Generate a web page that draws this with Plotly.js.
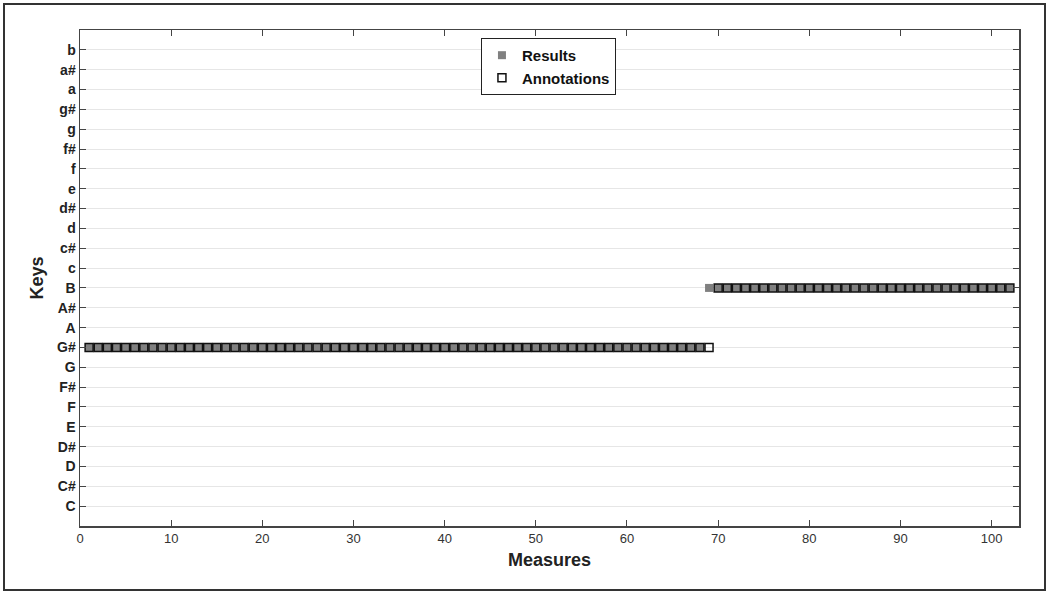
<!DOCTYPE html>
<html>
<head>
<meta charset="utf-8">
<script src="https://cdn.plot.ly/plotly-3.0.1.min.js"></script>
<style>
html,body{margin:0;padding:0;background:#fff;}
#wrap{position:relative;width:1048px;height:593px;}
#chart{position:absolute;left:0;top:0;width:1048px;height:593px;}
#frame{position:absolute;left:3px;top:3px;width:1039px;height:584px;border:2px solid #333;pointer-events:none;}
</style>
</head>
<body>
<div id="wrap"><div id="chart"></div><div id="frame"></div></div>
<script>
const keyLabels = ["C","C#","D","D#","E","F","F#","G","G#","A","A#","B","c","c#","d","d#","e","f","f#","g","g#","a","a#","b"];
const xTicks = [0,10,20,30,40,50,60,70,80,90,100];

const measures = [
1,2,3,4,5,6,7,8,9,10,
11,12,13,14,15,16,17,18,19,20,
21,22,23,24,25,26,27,28,29,30,
31,32,33,34,35,36,37,38,39,40,
41,42,43,44,45,46,47,48,49,50,
51,52,53,54,55,56,57,58,59,60,
61,62,63,64,65,66,67,68,69,70,
71,72,73,74,75,76,77,78,79,80,
81,82,83,84,85,86,87,88,89,90,
91,92,93,94,95,96,97,98,99,100,
101,102];

const resultsKeys = [
"G#","G#","G#","G#","G#","G#","G#","G#","G#","G#",
"G#","G#","G#","G#","G#","G#","G#","G#","G#","G#",
"G#","G#","G#","G#","G#","G#","G#","G#","G#","G#",
"G#","G#","G#","G#","G#","G#","G#","G#","G#","G#",
"G#","G#","G#","G#","G#","G#","G#","G#","G#","G#",
"G#","G#","G#","G#","G#","G#","G#","G#","G#","G#",
"G#","G#","G#","G#","G#","G#","G#","G#","B","B",
"B","B","B","B","B","B","B","B","B","B",
"B","B","B","B","B","B","B","B","B","B",
"B","B","B","B","B","B","B","B","B","B",
"B","B"];

const annotationKeys = [
"G#","G#","G#","G#","G#","G#","G#","G#","G#","G#",
"G#","G#","G#","G#","G#","G#","G#","G#","G#","G#",
"G#","G#","G#","G#","G#","G#","G#","G#","G#","G#",
"G#","G#","G#","G#","G#","G#","G#","G#","G#","G#",
"G#","G#","G#","G#","G#","G#","G#","G#","G#","G#",
"G#","G#","G#","G#","G#","G#","G#","G#","G#","G#",
"G#","G#","G#","G#","G#","G#","G#","G#","G#","B",
"B","B","B","B","B","B","B","B","B","B",
"B","B","B","B","B","B","B","B","B","B",
"B","B","B","B","B","B","B","B","B","B",
"B","B"];

const font = "Liberation Sans, Arial, Helvetica, sans-serif";

const traces = [
  {
    name: "Results", type: "scatter", mode: "markers",
    x: measures, y: resultsKeys,
    marker: {symbol: "square", size: 8, color: "#808080", line: {width: 0}}
  },
  {
    name: "Annotations", type: "scatter", mode: "markers",
    x: measures, y: annotationKeys,
    marker: {symbol: "square-open", size: 8, color: "#111", line: {width: 1.5, color: "#111"}}
  }
];

const layout = {
  width: 1048, height: 593,
  margin: {l: 80, r: 29, t: 30, b: 67},
  paper_bgcolor: "#fff", plot_bgcolor: "#fff",
  font: {family: font, color: "#222"},
  showlegend: true,
  legend: {
    x: 0.427, y: 0.984, xanchor: "left", yanchor: "top",
    bgcolor: "#fff", bordercolor: "#222", borderwidth: 1,
    font: {family: font, size: 15, weight: "bold", color: "#111"},
    tracegroupgap: 0, itemwidth: 30
  },
  xaxis: {
    range: [0, 103],
    tickvals: xTicks, ticktext: xTicks.map(String),
    ticks: "inside", ticklen: 6, tickwidth: 1, tickcolor: "#444",
    showline: true, linecolor: "#444", linewidth: 1.5, mirror: "ticks",
    showgrid: false, zeroline: false,
    tickfont: {family: font, size: 13, color: "#333"},
    title: {text: "Measures", font: {family: font, size: 18, weight: "bold", color: "#222"}, standoff: 8}
  },
  yaxis: {
    type: "category",
    categoryorder: "array", categoryarray: keyLabels,
    range: [-1, 24],
    ticks: "inside", ticklen: 6, tickwidth: 1, tickcolor: "#444",
    showline: true, linecolor: "#444", linewidth: 1.5, mirror: "ticks",
    showgrid: true, gridcolor: "#e6e6e6", gridwidth: 1,
    zeroline: false,
    tickfont: {family: font, size: 14, weight: "bold", color: "#222"},
    title: {text: "Keys", font: {family: font, size: 18, weight: "bold", color: "#222"}, standoff: 8}
  }
};

Plotly.newPlot("chart", traces, layout, {displayModeBar: false, staticPlot: true});
</script>
</body>
</html>
